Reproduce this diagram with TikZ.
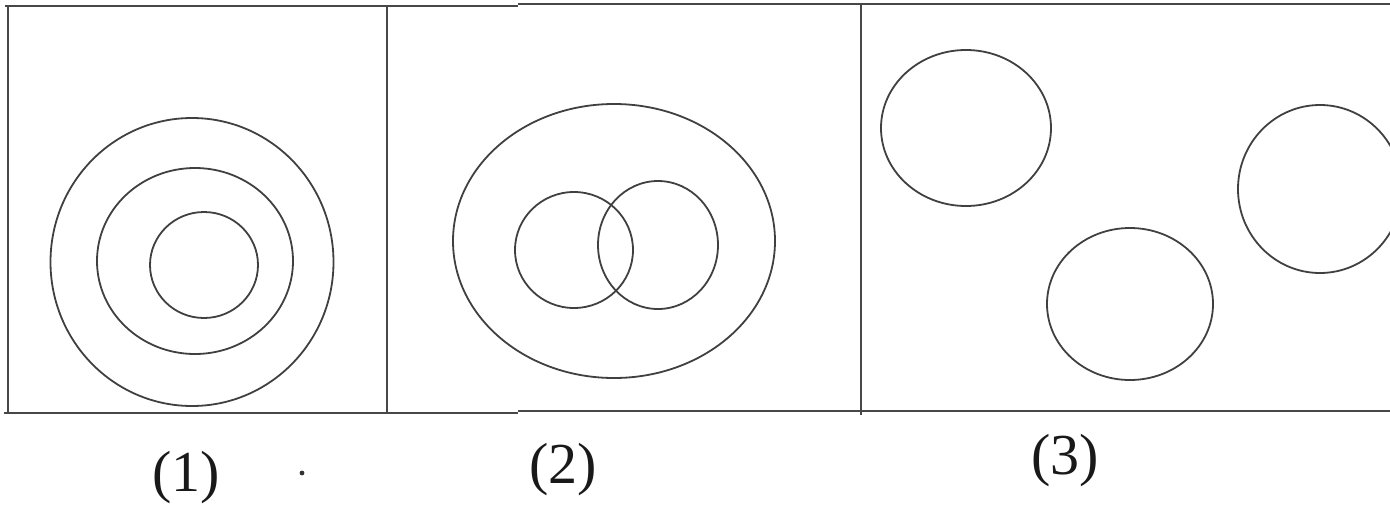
\documentclass[tikz,border=0pt]{standalone}
\usepackage{fontspec}
\setmainfont{Liberation Serif}
\begin{document}
\begin{tikzpicture}[x=1pt,y=-1pt,
  frame/.style={draw=black!72,line width=2.2pt},
  ring/.style={draw=black!75,line width=1.8pt},
  lbl/.style={font=\fontsize{58}{60}\selectfont,inner sep=0pt,text=black!90}]
\useasboundingbox (0,0) rectangle (1390,509);
\clip (0,0) rectangle (1390,509);
% frame
\draw[frame] (8,6) -- (8,413);
\draw[frame] (5,6) -- (518,6);
\draw[frame] (518,4) -- (1390,4);
\draw[frame] (4,413) -- (518,413);
\draw[frame] (518,411) -- (1390,411);
\draw[frame] (387,6) -- (387,413);
\draw[frame] (861,4) -- (861,415);
% panel 1
\draw[ring] (192,262) ellipse [x radius=141.5,y radius=144];
\draw[ring] (195,261) ellipse [x radius=98,y radius=93];
\draw[ring] (204,265) ellipse [x radius=54,y radius=53];
% panel 2
\draw[ring] (614,241) ellipse [x radius=161,y radius=137];
\draw[ring] (574,250) ellipse [x radius=59,y radius=58];
\draw[ring] (658,245) ellipse [x radius=60,y radius=64];
% panel 3
\draw[ring] (966,128) ellipse [x radius=85,y radius=78];
\draw[ring] (1130,304) ellipse [x radius=83,y radius=76];
\draw[ring] (1320,189) ellipse [x radius=82,y radius=84];
% labels
\node[lbl] (l1) at (186,478) {(1)};
\node[lbl] (l2) at (563,470) {(2)};
\node[lbl] (l3) at (1065,461) {(3)};
\fill[black!80] (302,473) circle [radius=2.4];
\end{tikzpicture}
\end{document}
